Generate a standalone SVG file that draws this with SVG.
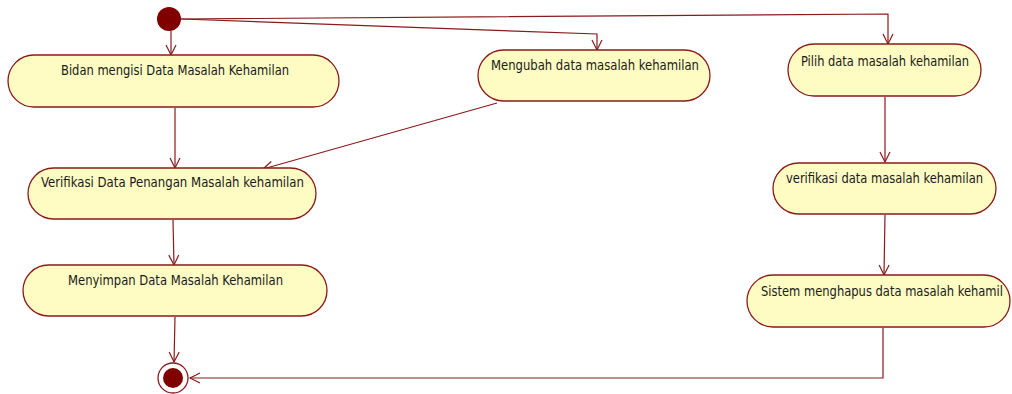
<svg xmlns="http://www.w3.org/2000/svg" width="1012" height="394" viewBox="0 0 1012 394">
<defs>
<marker id="arr" markerWidth="12" markerHeight="12" refX="10" refY="5" orient="auto" markerUnits="userSpaceOnUse" overflow="visible">
<path d="M0,0 L10,5 L0,10" fill="none" stroke="#8b1a1a" stroke-width="1.2"/>
</marker>
<style>
.act{fill:#fefcc3;stroke:#8b1a1a;stroke-width:1.3}
.lbl{font-family:"DejaVu Sans Condensed","DejaVu Sans","Liberation Sans",sans-serif;font-size:13.5px;fill:#1a1a1a}
.con{fill:none;stroke:#8b1a1a;stroke-width:1.2;marker-end:url(#arr)}
</style>
</defs>
<rect width="1012" height="394" fill="#ffffff"/>
<g id="connectors">
<path class="con" d="M171,31 L171,55"/>
<path class="con" d="M181,19 L597,34 L597,50"/>
<path class="con" d="M181,19 L888,14 L888,44"/>
<path class="con" d="M175,108 L175,168"/>
<path class="con" d="M497,103 L263,169"/>
<path class="con" d="M173,220 L174,265"/>
<path class="con" d="M175,317 L174,362"/>
<path class="con" d="M885,97 L885,162"/>
<path class="con" d="M885,215 L884,275"/>
<path class="con" d="M883,328 L883,378 L190,378"/>
</g>
<g id="start">
<circle cx="169" cy="19" r="12" fill="#800000"/>
</g>
<g id="bidan">
<rect class="act" x="8" y="55" width="331" height="52" rx="26" ry="26"/>
<text class="lbl" x="61" y="75" textLength="228" lengthAdjust="spacingAndGlyphs">Bidan mengisi Data Masalah Kehamilan</text>
</g>
<g id="mengubah">
<rect class="act" x="478" y="50" width="232" height="51" rx="25.5" ry="25.5"/>
<text class="lbl" x="491" y="70" textLength="208" lengthAdjust="spacingAndGlyphs">Mengubah data masalah kehamilan</text>
</g>
<g id="pilih">
<rect class="act" x="788" y="44" width="193" height="52" rx="26" ry="26"/>
<text class="lbl" x="801" y="66" textLength="168" lengthAdjust="spacingAndGlyphs">Pilih data masalah kehamilan</text>
</g>
<g id="verifikasi-penangan">
<rect class="act" x="28" y="168" width="288" height="51" rx="25.5" ry="25.5"/>
<text class="lbl" x="41" y="187" textLength="263" lengthAdjust="spacingAndGlyphs">Verifikasi Data Penangan Masalah kehamilan</text>
</g>
<g id="verifikasi-data">
<rect class="act" x="773" y="163" width="223" height="51" rx="25.5" ry="25.5"/>
<text class="lbl" x="786" y="183" textLength="197" lengthAdjust="spacingAndGlyphs">verifikasi data masalah kehamilan</text>
</g>
<g id="menyimpan">
<rect class="act" x="23" y="265" width="304" height="51" rx="25.5" ry="25.5"/>
<text class="lbl" x="68" y="285" textLength="215" lengthAdjust="spacingAndGlyphs">Menyimpan Data Masalah Kehamilan</text>
</g>
<g id="sistem">
<rect class="act" x="747" y="275" width="263" height="52" rx="26" ry="26"/>
<text class="lbl" x="761" y="296" textLength="242" lengthAdjust="spacingAndGlyphs">Sistem menghapus data masalah kehamil</text>
</g>
<g id="end">
<circle cx="173" cy="378" r="15" fill="#ffffff" stroke="#8b1a1a" stroke-width="1.3"/>
<circle cx="173" cy="378" r="10" fill="#800000"/>
</g>
</svg>
